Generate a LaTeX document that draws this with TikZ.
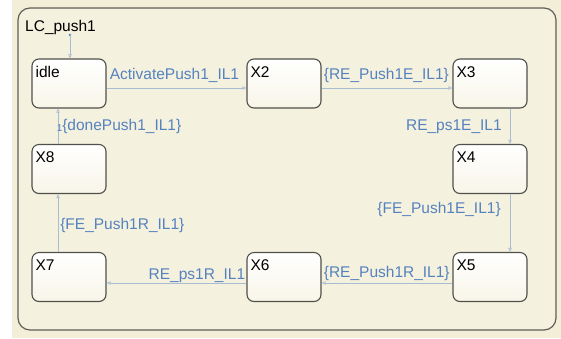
\documentclass[tikz,border=0pt]{standalone}
\usepackage{fontspec}
\setmainfont{Liberation Sans}
\usetikzlibrary{arrows.meta}

\definecolor{pagebg}{RGB}{243,238,216}
\definecolor{chartfill}{RGB}{245,241,223}
\definecolor{chartedge}{RGB}{95,95,88}
\definecolor{statebot}{RGB}{248,245,232}
\definecolor{stateedge}{RGB}{80,80,75}
\definecolor{transline}{RGB}{170,189,208}
\definecolor{translabel}{RGB}{85,130,190}

\begin{document}
\begin{tikzpicture}[x=1pt, y=-1pt,
	state/.style={draw=stateedge, line width=1.1pt, rounded corners=7pt,
		top color=white, bottom color=statebot,
		minimum width=74pt, minimum height=49pt, inner sep=0pt,
		label={[anchor=north west, inner sep=0pt, xshift=4pt, yshift=-8pt,
			font=\fontsize{15.5}{18}\selectfont]north west:#1}},
	trans/.style={draw=transline, line width=0.6pt,
		-{Triangle[open, length=4pt, width=3.5pt]}},
	guard/.style={text=translabel, inner sep=0pt,
		font=\fontsize{15.5}{18}\selectfont}]
	\useasboundingbox (0,0) rectangle (561,338);
	\fill[pagebg] (12,0) rectangle (561,338);

	% chart LC_push1
	\draw[draw=chartedge, fill=chartfill, line width=1.2pt, rounded corners=12pt]
		(18,8) rectangle (556,330);
	\node[anchor=base west, inner sep=0pt, font=\fontsize{15.5}{18}\selectfont]
		(title) at (25,31) {LC\_push1};

	% states
	\node[state=idle] (idle) at (69,83.5) {};
	\node[state=X2] (x2) at (284,83.5) {};
	\node[state=X3] (x3) at (490,83.5) {};
	\node[state=X4] (x4) at (490,169) {};
	\node[state=X5] (x5) at (490,277) {};
	\node[state=X6] (x6) at (284,277) {};
	\node[state=X7] (x7) at (69,277) {};
	\node[state=X8] (x8) at (69,169) {};

	% default transition
	\coordinate (init) at (70,35);
	\fill[translabel] (init) circle (1.4pt);
	\draw[trans] (init) -- (init |- idle.north);

	% transitions
	\draw[trans] ([yshift=-4.5pt]idle.east) -- ([yshift=-4.5pt]x2.west)
		node[guard, pos=0, anchor=base west, shift={(3pt,9pt)}] (g1) {ActivatePush1\_IL1};
	\draw[trans] ([yshift=-4.5pt]x2.east) -- ([yshift=-4.5pt]x3.west)
		node[guard, pos=0, anchor=base west, shift={(2pt,9pt)}] (g2) {\{RE\_Push1E\_IL1\}};
	\draw[trans] ([xshift=20pt]x3.south) -- ([xshift=20pt]x4.north)
		node[guard, midway, anchor=base east, shift={(-8pt,-4pt)}] (g3) {RE\_ps1E\_IL1};
	\draw[trans] ([xshift=20pt]x4.south) -- ([xshift=20pt]x5.north)
		node[guard, midway, anchor=base east, shift={(-9pt,10pt)}] (g4) {\{FE\_Push1E\_IL1\}};
	\draw[trans] ([yshift=-6pt]x5.west) -- ([yshift=-6pt]x6.east)
		node[guard, pos=1, anchor=base west, shift={(2pt,6pt)}] (g5) {\{RE\_Push1R\_IL1\}};
	\draw[trans] ([yshift=-6pt]x6.west) -- ([yshift=-6pt]x7.east)
		node[guard, pos=0, anchor=base east, shift={(-1pt,4pt)}] (g6) {RE\_ps1R\_IL1};
	\draw[trans] ([xshift=-11pt]x7.north) -- ([xshift=-11pt]x8.south)
		node[guard, midway, anchor=base west, shift={(2pt,-6pt)}] (g7) {\{FE\_Push1R\_IL1\}};
	\draw[trans] ([xshift=-11pt]x8.north) -- ([xshift=-11pt]idle.south)
		node[guard, midway, anchor=base west, shift={(4pt,-4.5pt)}] (g8) {\{donePush1\_IL1\}}
		node[guard, midway, anchor=base west, shift={(-1.5pt,-5.5pt)},
			font=\fontsize{10}{12}\selectfont] (prio) {1};
\end{tikzpicture}
\end{document}
